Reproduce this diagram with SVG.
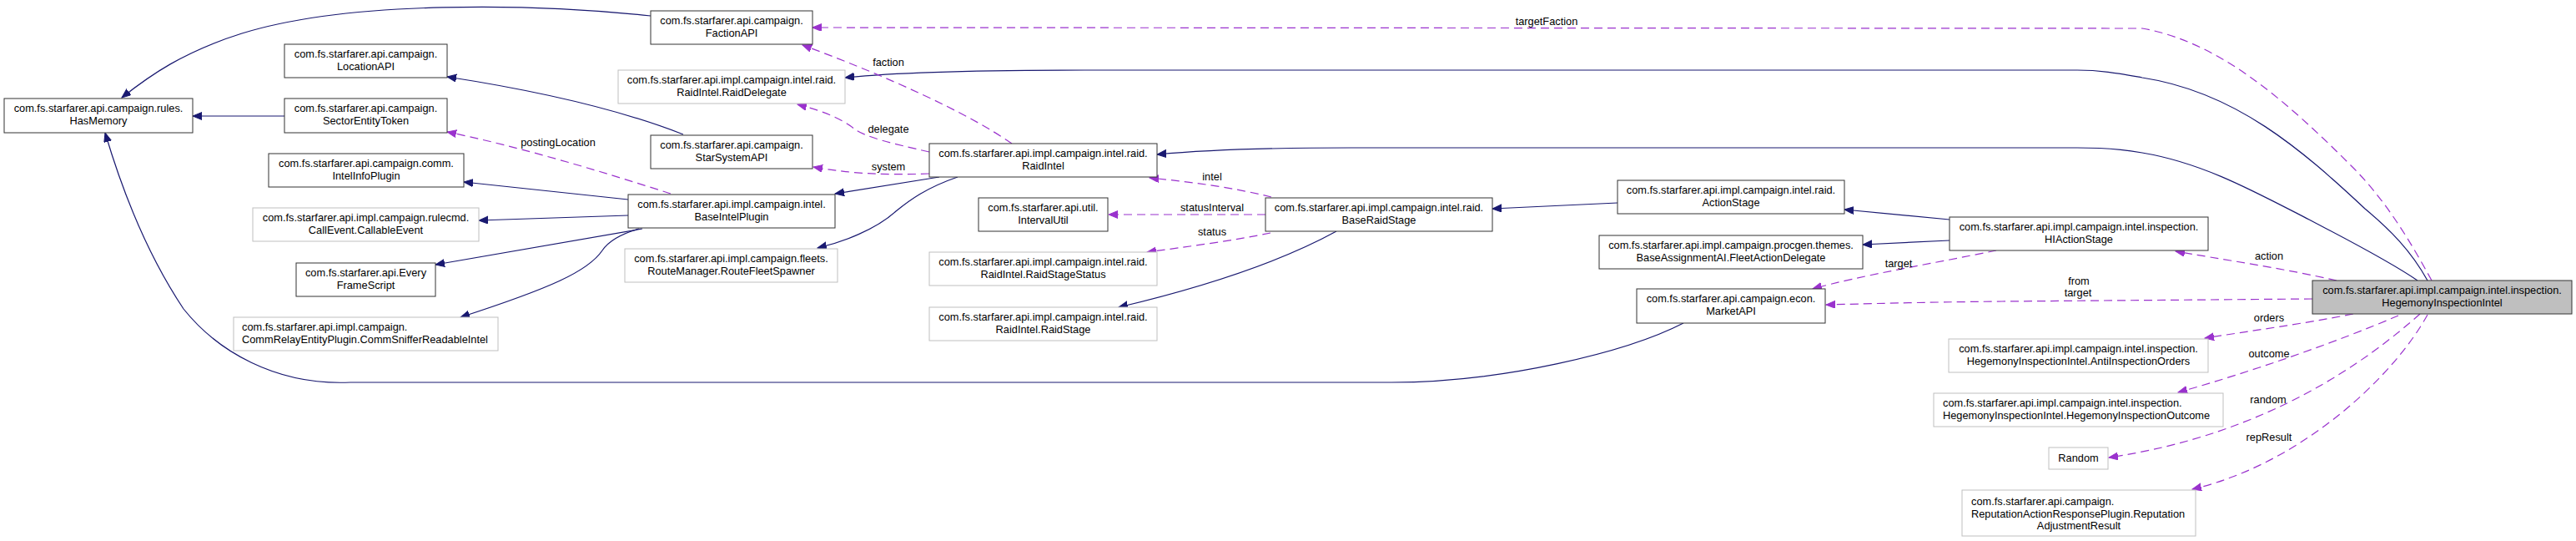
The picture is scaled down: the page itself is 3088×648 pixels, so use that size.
<svg xmlns="http://www.w3.org/2000/svg" width="3088" height="648" viewBox="0 0 3088 648">
<style>
text{font-family:"Liberation Sans",Arial,Helvetica,sans-serif;font-size:12.8px;fill:#000}
.c{text-anchor:middle}
.n{fill:#fff;stroke:#333;stroke-width:1}
.g{fill:#fff;stroke:#bfbfbf;stroke-width:1}
.m{fill:#bfbfbf;stroke:#333;stroke-width:1}
.i{fill:none;stroke:#191970;stroke-width:1.2;marker-end:url(#ai)}
.u{fill:none;stroke:#9a32cd;stroke-width:1.2;stroke-dasharray:10,6;marker-end:url(#au)}
</style>
<defs>
<marker id="ai" markerWidth="12" markerHeight="10" refX="11" refY="4.5" orient="auto" markerUnits="userSpaceOnUse"><path d="M0,0 L11,4.5 L0,9 z" fill="#191970" stroke="#191970" stroke-width="1"/></marker>
<marker id="au" markerWidth="12" markerHeight="10" refX="11" refY="4.5" orient="auto" markerUnits="userSpaceOnUse"><path d="M0,0 L11,4.5 L0,9 z" fill="#9a32cd" stroke="#9a32cd" stroke-width="1"/></marker>
</defs>
<rect width="3088" height="648" fill="#fff"/>
<g id="edges">
<path class="i" d="M780,19 C640,4 420,0 290,40 C220,62 180,90 146,117"/>
<path class="i" d="M819,161 C740,130 640,108 536,92"/>
<path class="i" d="M341,139 L231,139"/>
<path class="i" d="M753,239 L556,218"/>
<path class="i" d="M753,258 L574,264"/>
<path class="i" d="M770,274 L522,317"/>
<path class="i" d="M766,274 C745,280 730,288 722,300 C705,325 660,345 552,380"/>
<path class="i" d="M1126,212 L1001,232"/>
<path class="i" d="M1148,212 C1110,225 1090,240 1074,253 C1050,275 1010,290 980,297"/>
<path class="i" d="M2898,336 C2860,310 2800,280 2768,263 C2700,228 2640,195 2568,183 C2540,178 2520,177 2490,177 L1620,177 C1500,177 1420,182 1387,185"/>
<path class="i" d="M2910,336 C2890,300 2865,275 2835,250 C2760,180 2680,110 2568,93 C2540,88 2520,84 2490,84 L1300,84 C1150,84 1060,88 1013,93"/>
<path class="i" d="M2337,263 L2211,251"/>
<path class="i" d="M2337,288 L2233,293"/>
<path class="i" d="M1939,243 L1789,250"/>
<path class="i" d="M1602,277 C1560,300 1480,335 1341,368"/>
<path class="i" d="M2018,387 C1950,422 1800,458 1668,458 L420,458 C330,462 260,420 220,370 C180,310 150,240 126,159"/>
<path class="u" d="M2915,336 C2890,290 2860,240 2820,200 C2740,120 2660,50 2568,34 L974,33"/>
<path class="u" d="M1213,172 C1160,135 1060,90 962,54"/>
<path class="u" d="M1114,182 C1070,172 1040,165 1025,155 C1010,143 990,134 956,125"/>
<path class="u" d="M1114,208 C1060,210 1020,208 975,200"/>
<path class="u" d="M804,232 C720,205 620,175 536,158"/>
<path class="u" d="M1524,236 C1480,225 1430,218 1378,213"/>
<path class="u" d="M1517,257 L1329,257"/>
<path class="u" d="M1523,279 C1480,288 1420,296 1375,302"/>
<path class="u" d="M2801,336 C2740,322 2660,310 2608,301"/>
<path class="u" d="M2772,358 L2400,361 C2300,362 2230,364 2189,365"/>
<path class="u" d="M2393,300 C2320,315 2230,330 2173,346"/>
<path class="u" d="M2821,376 C2760,388 2700,396 2643,405"/>
<path class="u" d="M2875,378 C2800,410 2700,445 2611,470"/>
<path class="u" d="M2901,376 C2840,430 2720,520 2528,548"/>
<path class="u" d="M2910,377 C2870,450 2760,555 2628,586"/>
<text class="c" x="1854" y="30">targetFaction</text>
<text class="c" x="1065" y="79">faction</text>
<text class="c" x="1065" y="159">delegate</text>
<text class="c" x="1065" y="204">system</text>
<text class="c" x="669" y="175">postingLocation</text>
<text class="c" x="1453" y="216">intel</text>
<text class="c" x="1453" y="253">statusInterval</text>
<text class="c" x="1453" y="282">status</text>
<text class="c" x="2276" y="320">target</text>
<text class="c" x="2492" y="341">from</text>
<text class="c" x="2491" y="355">target</text>
<text class="c" x="2720" y="311">action</text>
<text class="c" x="2720" y="385">orders</text>
<text class="c" x="2720" y="428">outcome</text>
<text class="c" x="2719" y="483">random</text>
<text class="c" x="2720" y="528">repResult</text>
</g>
<g id="HasMemory"><rect class="n" x="5" y="118" width="226" height="41"/><text class="c" x="118" y="134">com.fs.starfarer.api.campaign.rules.</text><text class="c" x="118" y="149">HasMemory</text></g>
<g id="LocationAPI"><rect class="n" x="341" y="53" width="195" height="40"/><text class="c" x="438.5" y="69">com.fs.starfarer.api.campaign.</text><text class="c" x="438.5" y="84">LocationAPI</text></g>
<g id="SectorEntityToken"><rect class="n" x="341" y="118" width="195" height="41"/><text class="c" x="438.5" y="134">com.fs.starfarer.api.campaign.</text><text class="c" x="438.5" y="149">SectorEntityToken</text></g>
<g id="IntelInfoPlugin"><rect class="n" x="322" y="184" width="234" height="40"/><text class="c" x="439" y="200">com.fs.starfarer.api.campaign.comm.</text><text class="c" x="439" y="215">IntelInfoPlugin</text></g>
<g id="CallableEvent"><rect class="g" x="303" y="249" width="271" height="40"/><text class="c" x="438.5" y="265">com.fs.starfarer.api.impl.campaign.rulecmd.</text><text class="c" x="438.5" y="280">CallEvent.CallableEvent</text></g>
<g id="EveryFrameScript"><rect class="n" x="355" y="315" width="167" height="40"/><text class="c" x="438.5" y="331">com.fs.starfarer.api.Every</text><text class="c" x="438.5" y="346">FrameScript</text></g>
<g id="CommSnifferReadableIntel"><rect class="g" x="280" y="380" width="317" height="40"/><text x="290" y="396">com.fs.starfarer.api.impl.campaign.</text><text x="290" y="411">CommRelayEntityPlugin.CommSnifferReadableIntel</text></g>
<g id="FactionAPI"><rect class="n" x="780" y="13" width="194" height="40"/><text class="c" x="877" y="29">com.fs.starfarer.api.campaign.</text><text class="c" x="877" y="44">FactionAPI</text></g>
<g id="RaidDelegate"><rect class="g" x="741" y="84" width="272" height="40"/><text class="c" x="877" y="100">com.fs.starfarer.api.impl.campaign.intel.raid.</text><text class="c" x="877" y="115">RaidIntel.RaidDelegate</text></g>
<g id="StarSystemAPI"><rect class="n" x="780" y="162" width="194" height="40"/><text class="c" x="877" y="178">com.fs.starfarer.api.campaign.</text><text class="c" x="877" y="193">StarSystemAPI</text></g>
<g id="BaseIntelPlugin"><rect class="n" x="753" y="233" width="248" height="40"/><text class="c" x="877" y="249">com.fs.starfarer.api.impl.campaign.intel.</text><text class="c" x="877" y="264">BaseIntelPlugin</text></g>
<g id="RouteFleetSpawner"><rect class="g" x="749" y="298" width="255" height="40"/><text class="c" x="876.5" y="314">com.fs.starfarer.api.impl.campaign.fleets.</text><text class="c" x="876.5" y="329">RouteManager.RouteFleetSpawner</text></g>
<g id="RaidIntel"><rect class="n" x="1114" y="172" width="273" height="40"/><text class="c" x="1250.5" y="188">com.fs.starfarer.api.impl.campaign.intel.raid.</text><text class="c" x="1250.5" y="203">RaidIntel</text></g>
<g id="IntervalUtil"><rect class="n" x="1173" y="237" width="155" height="40"/><text class="c" x="1250.5" y="253">com.fs.starfarer.api.util.</text><text class="c" x="1250.5" y="268">IntervalUtil</text></g>
<g id="RaidStageStatus"><rect class="g" x="1114" y="302" width="273" height="40"/><text class="c" x="1250.5" y="318">com.fs.starfarer.api.impl.campaign.intel.raid.</text><text class="c" x="1250.5" y="333">RaidIntel.RaidStageStatus</text></g>
<g id="RaidStage"><rect class="g" x="1114" y="368" width="273" height="40"/><text class="c" x="1250.5" y="384">com.fs.starfarer.api.impl.campaign.intel.raid.</text><text class="c" x="1250.5" y="399">RaidIntel.RaidStage</text></g>
<g id="BaseRaidStage"><rect class="n" x="1517" y="237" width="272" height="40"/><text class="c" x="1653" y="253">com.fs.starfarer.api.impl.campaign.intel.raid.</text><text class="c" x="1653" y="268">BaseRaidStage</text></g>
<g id="ActionStage"><rect class="n" x="1939" y="216" width="272" height="40"/><text class="c" x="2075" y="232">com.fs.starfarer.api.impl.campaign.intel.raid.</text><text class="c" x="2075" y="247">ActionStage</text></g>
<g id="FleetActionDelegate"><rect class="n" x="1917" y="282" width="316" height="40"/><text class="c" x="2075" y="298">com.fs.starfarer.api.impl.campaign.procgen.themes.</text><text class="c" x="2075" y="313">BaseAssignmentAI.FleetActionDelegate</text></g>
<g id="MarketAPI"><rect class="n" x="1962" y="346" width="226" height="41"/><text class="c" x="2075" y="362">com.fs.starfarer.api.campaign.econ.</text><text class="c" x="2075" y="377">MarketAPI</text></g>
<g id="HIActionStage"><rect class="n" x="2337" y="260" width="310" height="40"/><text class="c" x="2492" y="276">com.fs.starfarer.api.impl.campaign.intel.inspection.</text><text class="c" x="2492" y="291">HIActionStage</text></g>
<g id="AntiInspectionOrders"><rect class="g" x="2336" y="406" width="311" height="40"/><text class="c" x="2491.5" y="422">com.fs.starfarer.api.impl.campaign.intel.inspection.</text><text class="c" x="2491.5" y="437">HegemonyInspectionIntel.AntiInspectionOrders</text></g>
<g id="HegemonyInspectionOutcome"><rect class="g" x="2318" y="471" width="347" height="40"/><text x="2329" y="487">com.fs.starfarer.api.impl.campaign.intel.inspection.</text><text x="2329" y="502">HegemonyInspectionIntel.HegemonyInspectionOutcome</text></g>
<g id="Random"><rect class="g" x="2456" y="536" width="71" height="26"/><text class="c" x="2491.5" y="553">Random</text></g>
<g id="ReputationAdjustmentResult"><rect class="g" x="2352" y="587" width="280" height="55"/><text x="2363" y="605">com.fs.starfarer.api.campaign.</text><text x="2363" y="619.5">ReputationActionResponsePlugin.Reputation</text><text class="c" x="2492" y="634">AdjustmentResult</text></g>
<g id="HegemonyInspectionIntel"><rect class="m" x="2772" y="336" width="311" height="40"/><text class="c" x="2927.5" y="352">com.fs.starfarer.api.impl.campaign.intel.inspection.</text><text class="c" x="2927.5" y="367">HegemonyInspectionIntel</text></g>
</svg>
